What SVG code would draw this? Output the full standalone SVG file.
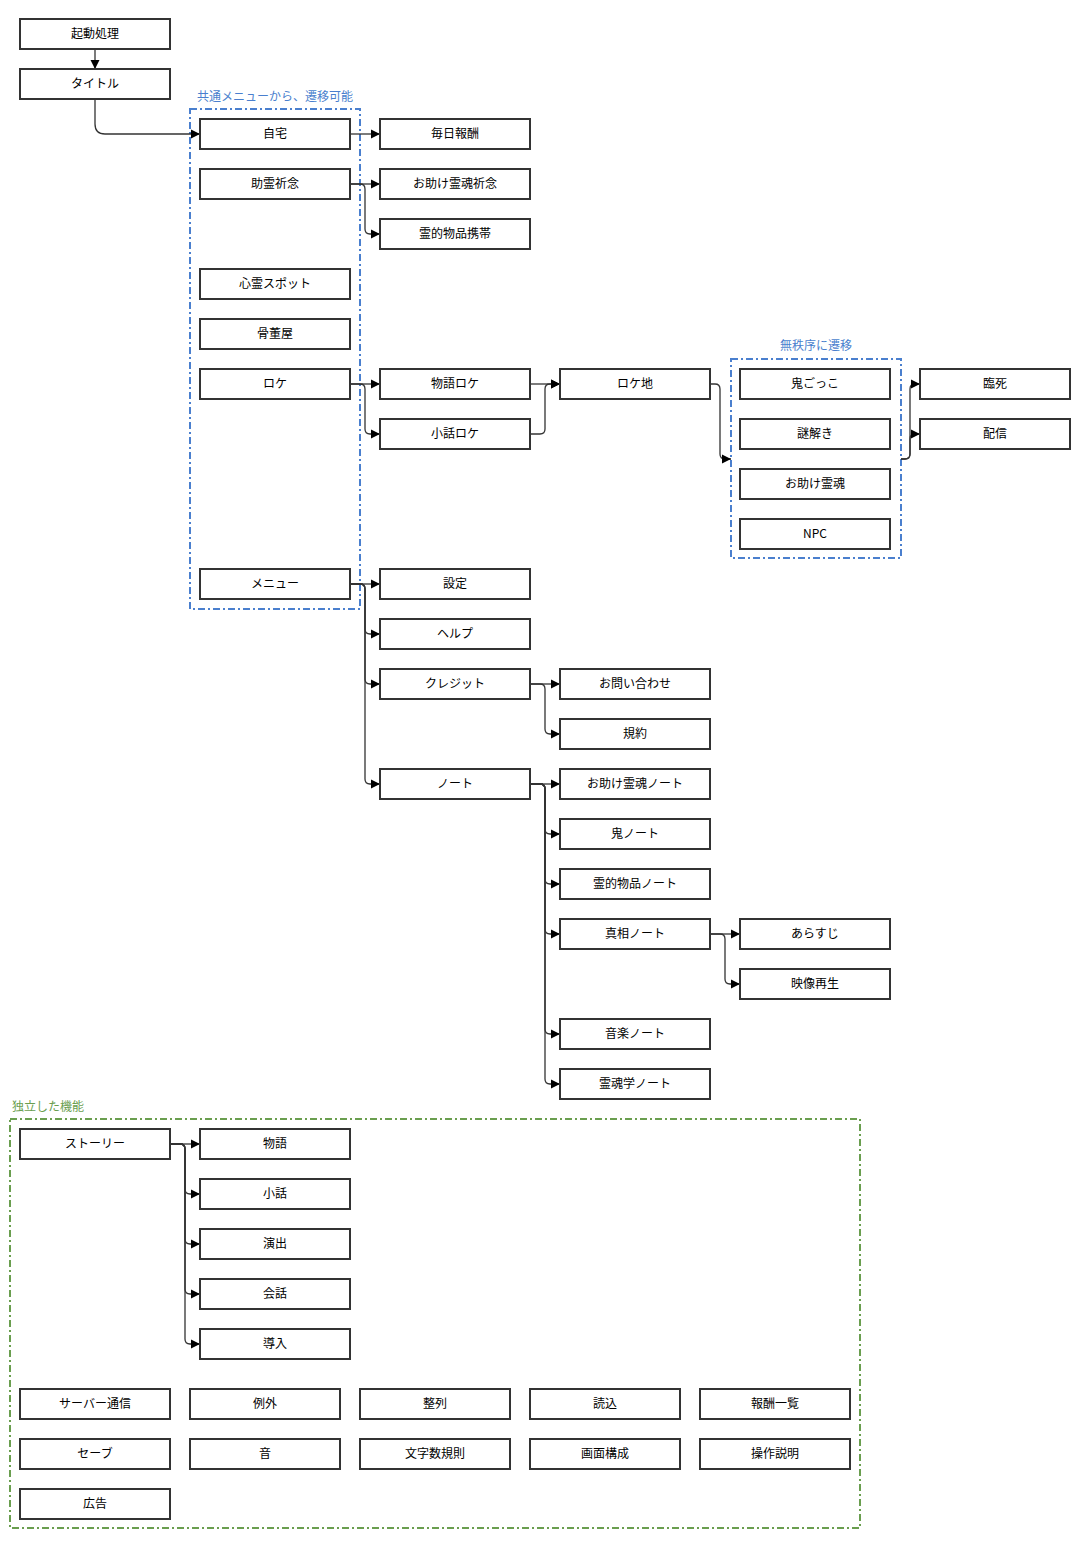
<svg xmlns="http://www.w3.org/2000/svg" width="1091" height="1549" viewBox="0 0 1091 1549">
<style>
.n rect{fill:#fff;stroke:#333;stroke-width:2}
.n text,.t{font-family:"Noto Sans CJK JP","Noto Sans",sans-serif;font-size:12px;fill:#000;text-anchor:middle}
.c path{fill:none;stroke:#333;stroke-width:1.3}
.grp{fill:none;stroke-width:2;stroke-dasharray:7 3 2 3}
.gl{font-family:"Noto Sans CJK JP","Noto Sans",sans-serif;font-size:12px}
</style>
<defs>
<marker id="a" viewBox="0 0 10 10" refX="10" refY="5" markerWidth="9" markerHeight="10" markerUnits="userSpaceOnUse" orient="auto"><path d="M0,0 L10,5 L0,10 z" fill="#000"/></marker>
</defs>
<rect width="1091" height="1549" fill="#fff"/>
<g id="groups">
<rect class="grp" x="190" y="109" width="170" height="500" stroke="#4a7fce"/>
<text class="gl" x="197" y="101" fill="#4a7fce">共通メニューから、遷移可能</text>
<rect class="grp" x="731" y="359" width="170" height="199" stroke="#4a7fce"/>
<text class="gl" x="816" y="350" fill="#4a7fce" text-anchor="middle">無秩序に遷移</text>
<rect class="grp" x="10" y="1119" width="850" height="409" stroke="#6a9e4f"/>
<text class="gl" x="12" y="1111" fill="#6a9e4f">独立した機能</text>
</g>
<g class="c" id="connectors">
<path marker-end="url(#a)" d="M95,49 L95,69"/>
<path marker-end="url(#a)" d="M95,99 L95,124 Q95,134 105,134 L200,134"/>
<path marker-end="url(#a)" d="M350,134 L380,134"/>
<path marker-end="url(#a)" d="M350,184 L380,184"/>
<path marker-end="url(#a)" d="M350,184 L360,184 Q365,184 365,189 L365,229 Q365,234 370,234 L380,234"/>
<path marker-end="url(#a)" d="M350,384 L380,384"/>
<path marker-end="url(#a)" d="M350,384 L360,384 Q365,384 365,389 L365,429 Q365,434 370,434 L380,434"/>
<path marker-end="url(#a)" d="M530,384 L560,384"/>
<path marker-end="url(#a)" d="M530,434 L540,434 Q545,434 545,429 L545,389 Q545,384 550,384 L560,384"/>
<path marker-end="url(#a)" d="M710,384 L715,384 Q720,384 720,389 L720,454 Q720,459 725,459 L731,459"/>
<path marker-end="url(#a)" d="M901,459 L905,459 Q910,459 910,454 L910,389 Q910,384 915,384 L920,384"/>
<path marker-end="url(#a)" d="M901,459 L905,459 Q910,459 910,454 L910,439 Q910,434 915,434 L920,434"/>
<path marker-end="url(#a)" d="M350,584 L380,584"/>
<path marker-end="url(#a)" d="M350,584 L360,584 Q365,584 365,589 L365,629 Q365,634 370,634 L380,634"/>
<path marker-end="url(#a)" d="M350,584 L360,584 Q365,584 365,589 L365,679 Q365,684 370,684 L380,684"/>
<path marker-end="url(#a)" d="M350,584 L360,584 Q365,584 365,589 L365,779 Q365,784 370,784 L380,784"/>
<path marker-end="url(#a)" d="M530,684 L560,684"/>
<path marker-end="url(#a)" d="M530,684 L540,684 Q545,684 545,689 L545,729 Q545,734 550,734 L560,734"/>
<path marker-end="url(#a)" d="M530,784 L560,784"/>
<path marker-end="url(#a)" d="M530,784 L540,784 Q545,784 545,789 L545,829 Q545,834 550,834 L560,834"/>
<path marker-end="url(#a)" d="M530,784 L540,784 Q545,784 545,789 L545,879 Q545,884 550,884 L560,884"/>
<path marker-end="url(#a)" d="M530,784 L540,784 Q545,784 545,789 L545,929 Q545,934 550,934 L560,934"/>
<path marker-end="url(#a)" d="M530,784 L540,784 Q545,784 545,789 L545,1029 Q545,1034 550,1034 L560,1034"/>
<path marker-end="url(#a)" d="M530,784 L540,784 Q545,784 545,789 L545,1079 Q545,1084 550,1084 L560,1084"/>
<path marker-end="url(#a)" d="M710,934 L740,934"/>
<path marker-end="url(#a)" d="M710,934 L720,934 Q725,934 725,939 L725,979 Q725,984 730,984 L740,984"/>
<path marker-end="url(#a)" d="M170,1144 L200,1144"/>
<path marker-end="url(#a)" d="M170,1144 L180,1144 Q185,1144 185,1149 L185,1189 Q185,1194 190,1194 L200,1194"/>
<path marker-end="url(#a)" d="M170,1144 L180,1144 Q185,1144 185,1149 L185,1239 Q185,1244 190,1244 L200,1244"/>
<path marker-end="url(#a)" d="M170,1144 L180,1144 Q185,1144 185,1149 L185,1289 Q185,1294 190,1294 L200,1294"/>
<path marker-end="url(#a)" d="M170,1144 L180,1144 Q185,1144 185,1149 L185,1339 Q185,1344 190,1344 L200,1344"/>
</g>
<g id="n1" class="n"><rect x="20" y="19" width="150" height="30"/><text x="95" y="38">起動処理</text></g>
<g id="n2" class="n"><rect x="20" y="69" width="150" height="30"/><text x="95" y="88">タイトル</text></g>
<g id="n3" class="n"><rect x="200" y="119" width="150" height="30"/><text x="275" y="138">自宅</text></g>
<g id="n4" class="n"><rect x="200" y="169" width="150" height="30"/><text x="275" y="188">助霊祈念</text></g>
<g id="n5" class="n"><rect x="200" y="269" width="150" height="30"/><text x="275" y="288">心霊スポット</text></g>
<g id="n6" class="n"><rect x="200" y="319" width="150" height="30"/><text x="275" y="338">骨董屋</text></g>
<g id="n7" class="n"><rect x="200" y="369" width="150" height="30"/><text x="275" y="388">ロケ</text></g>
<g id="n8" class="n"><rect x="200" y="569" width="150" height="30"/><text x="275" y="588">メニュー</text></g>
<g id="n9" class="n"><rect x="380" y="119" width="150" height="30"/><text x="455" y="138">毎日報酬</text></g>
<g id="n10" class="n"><rect x="380" y="169" width="150" height="30"/><text x="455" y="188">お助け霊魂祈念</text></g>
<g id="n11" class="n"><rect x="380" y="219" width="150" height="30"/><text x="455" y="238">霊的物品携帯</text></g>
<g id="n12" class="n"><rect x="380" y="369" width="150" height="30"/><text x="455" y="388">物語ロケ</text></g>
<g id="n13" class="n"><rect x="380" y="419" width="150" height="30"/><text x="455" y="438">小話ロケ</text></g>
<g id="n14" class="n"><rect x="380" y="569" width="150" height="30"/><text x="455" y="588">設定</text></g>
<g id="n15" class="n"><rect x="380" y="619" width="150" height="30"/><text x="455" y="638">ヘルプ</text></g>
<g id="n16" class="n"><rect x="380" y="669" width="150" height="30"/><text x="455" y="688">クレジット</text></g>
<g id="n17" class="n"><rect x="380" y="769" width="150" height="30"/><text x="455" y="788">ノート</text></g>
<g id="n18" class="n"><rect x="560" y="369" width="150" height="30"/><text x="635" y="388">ロケ地</text></g>
<g id="n19" class="n"><rect x="560" y="669" width="150" height="30"/><text x="635" y="688">お問い合わせ</text></g>
<g id="n20" class="n"><rect x="560" y="719" width="150" height="30"/><text x="635" y="738">規約</text></g>
<g id="n21" class="n"><rect x="560" y="769" width="150" height="30"/><text x="635" y="788">お助け霊魂ノート</text></g>
<g id="n22" class="n"><rect x="560" y="819" width="150" height="30"/><text x="635" y="838">鬼ノート</text></g>
<g id="n23" class="n"><rect x="560" y="869" width="150" height="30"/><text x="635" y="888">霊的物品ノート</text></g>
<g id="n24" class="n"><rect x="560" y="919" width="150" height="30"/><text x="635" y="938">真相ノート</text></g>
<g id="n25" class="n"><rect x="560" y="1019" width="150" height="30"/><text x="635" y="1038">音楽ノート</text></g>
<g id="n26" class="n"><rect x="560" y="1069" width="150" height="30"/><text x="635" y="1088">霊魂学ノート</text></g>
<g id="n27" class="n"><rect x="740" y="369" width="150" height="30"/><text x="815" y="388">鬼ごっこ</text></g>
<g id="n28" class="n"><rect x="740" y="419" width="150" height="30"/><text x="815" y="438">謎解き</text></g>
<g id="n29" class="n"><rect x="740" y="469" width="150" height="30"/><text x="815" y="488">お助け霊魂</text></g>
<g id="n30" class="n"><rect x="740" y="519" width="150" height="30"/><text x="815" y="538">NPC</text></g>
<g id="n31" class="n"><rect x="740" y="919" width="150" height="30"/><text x="815" y="938">あらすじ</text></g>
<g id="n32" class="n"><rect x="740" y="969" width="150" height="30"/><text x="815" y="988">映像再生</text></g>
<g id="n33" class="n"><rect x="920" y="369" width="150" height="30"/><text x="995" y="388">臨死</text></g>
<g id="n34" class="n"><rect x="920" y="419" width="150" height="30"/><text x="995" y="438">配信</text></g>
<g id="n35" class="n"><rect x="20" y="1129" width="150" height="30"/><text x="95" y="1148">ストーリー</text></g>
<g id="n36" class="n"><rect x="200" y="1129" width="150" height="30"/><text x="275" y="1148">物語</text></g>
<g id="n37" class="n"><rect x="200" y="1179" width="150" height="30"/><text x="275" y="1198">小話</text></g>
<g id="n38" class="n"><rect x="200" y="1229" width="150" height="30"/><text x="275" y="1248">演出</text></g>
<g id="n39" class="n"><rect x="200" y="1279" width="150" height="30"/><text x="275" y="1298">会話</text></g>
<g id="n40" class="n"><rect x="200" y="1329" width="150" height="30"/><text x="275" y="1348">導入</text></g>
<g id="n41" class="n"><rect x="20" y="1389" width="150" height="30"/><text x="95" y="1408">サーバー通信</text></g>
<g id="n42" class="n"><rect x="190" y="1389" width="150" height="30"/><text x="265" y="1408">例外</text></g>
<g id="n43" class="n"><rect x="360" y="1389" width="150" height="30"/><text x="435" y="1408">整列</text></g>
<g id="n44" class="n"><rect x="530" y="1389" width="150" height="30"/><text x="605" y="1408">読込</text></g>
<g id="n45" class="n"><rect x="700" y="1389" width="150" height="30"/><text x="775" y="1408">報酬一覧</text></g>
<g id="n46" class="n"><rect x="20" y="1439" width="150" height="30"/><text x="95" y="1458">セーブ</text></g>
<g id="n47" class="n"><rect x="190" y="1439" width="150" height="30"/><text x="265" y="1458">音</text></g>
<g id="n48" class="n"><rect x="360" y="1439" width="150" height="30"/><text x="435" y="1458">文字数規則</text></g>
<g id="n49" class="n"><rect x="530" y="1439" width="150" height="30"/><text x="605" y="1458">画面構成</text></g>
<g id="n50" class="n"><rect x="700" y="1439" width="150" height="30"/><text x="775" y="1458">操作説明</text></g>
<g id="n51" class="n"><rect x="20" y="1489" width="150" height="30"/><text x="95" y="1508">広告</text></g>
</svg>
